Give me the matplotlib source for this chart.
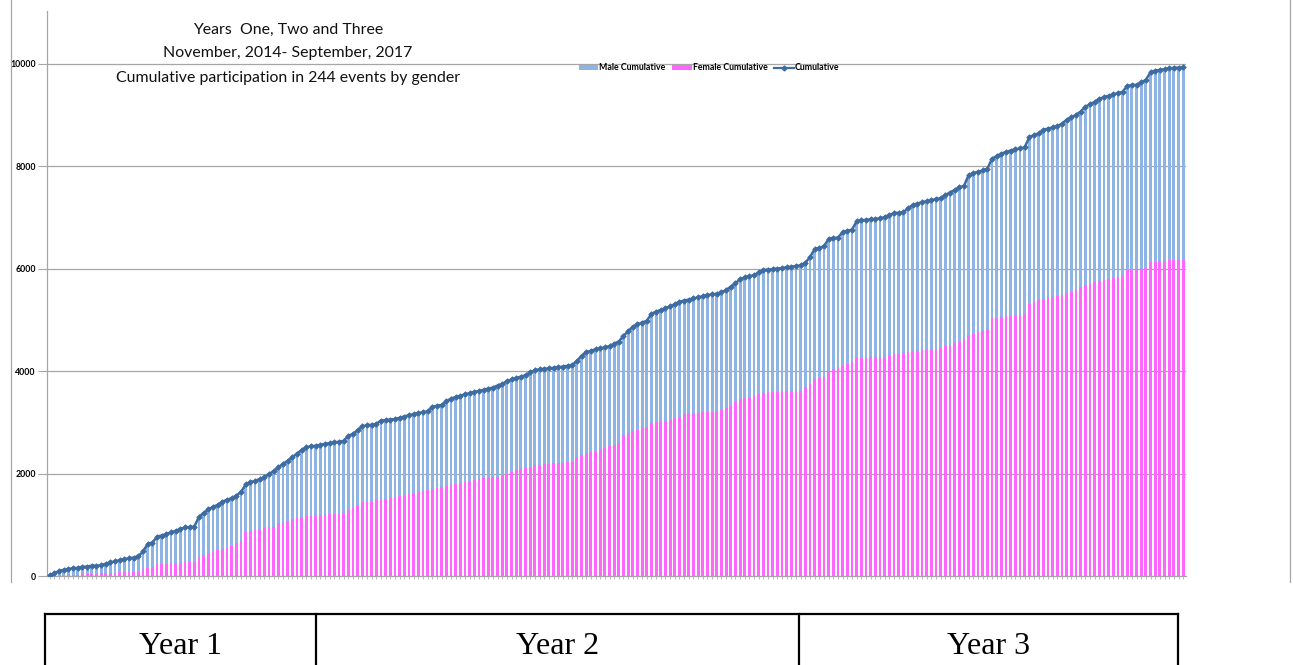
import matplotlib
matplotlib.use("Agg")
import matplotlib.pyplot as plt
from matplotlib.lines import Line2D
from matplotlib.patches import Patch
import numpy as np

# ---- data ----
cumulative = [
    10, 50, 100, 120, 135, 150, 160, 175, 185, 200,
    200, 210, 240, 265, 285, 310, 330, 345, 360, 385,
    480, 630, 650, 770, 790, 820, 850, 880, 920, 950,
    955, 965, 1160, 1230, 1300, 1350, 1390, 1450, 1490, 1520,
    1570, 1640, 1790, 1830, 1860, 1890, 1930, 1990, 2050, 2120,
    2190, 2250, 2320, 2390, 2460, 2515, 2530, 2545, 2560, 2580,
    2595, 2610, 2620, 2640, 2740, 2775, 2850, 2920, 2945, 2955,
    2970, 3035, 3045, 3055, 3065, 3090, 3115, 3140, 3160, 3180,
    3200, 3215, 3300, 3325, 3340, 3410, 3465, 3495, 3520, 3545,
    3570, 3595, 3615, 3635, 3660, 3680, 3720, 3755, 3800, 3840,
    3865, 3895, 3920, 3975, 4020, 4035, 4045, 4055, 4065, 4075,
    4090, 4105, 4120, 4200, 4300, 4370, 4400, 4425, 4445, 4465,
    4490, 4540, 4580, 4690, 4780, 4870, 4915, 4950, 4985, 5120,
    5165, 5195, 5230, 5265, 5310, 5355, 5380, 5400, 5420, 5440,
    5465, 5485, 5500, 5515, 5540, 5585, 5650, 5715, 5800, 5830,
    5850, 5875, 5930, 5975, 5985, 5995, 6005, 6015, 6030, 6040,
    6055, 6065, 6120, 6230, 6390, 6410, 6440, 6590, 6600, 6610,
    6720, 6745, 6765, 6930, 6945, 6955, 6965, 6975, 6985, 7010,
    7050, 7085, 7095, 7105, 7180, 7245, 7275, 7300, 7320, 7340,
    7360, 7380, 7440, 7490, 7540, 7590, 7620, 7830, 7870, 7895,
    7920, 7950, 8150, 8200, 8250, 8280, 8310, 8330, 8350, 8370,
    8570, 8610, 8645, 8710, 8740, 8760, 8780, 8835, 8910, 8960,
    9005, 9070, 9165, 9210, 9260, 9320, 9350, 9380, 9405, 9430,
    9455, 9575, 9585, 9595, 9640, 9690, 9840, 9870, 9885, 9900,
    9915, 9925, 9930, 9940,
]

female_cumulative = [
    0, 5, 10, 12, 15, 20, 25, 30, 35, 40,
    45, 50, 60, 62, 65, 70, 72, 75, 80, 85,
    130, 160, 180, 225, 235, 240, 248, 255, 262, 270,
    275, 280, 380, 410, 450, 475, 500, 525, 545, 590,
    640, 690, 850, 870, 895, 915, 935, 950, 965, 1030,
    1040, 1075, 1110, 1140, 1160, 1165, 1175, 1185, 1190, 1198,
    1205, 1212, 1220, 1225, 1285, 1320, 1380, 1440, 1455, 1465,
    1475, 1500, 1510, 1525, 1540, 1555, 1570, 1595, 1620, 1645,
    1660, 1675, 1695, 1710, 1730, 1755, 1775, 1795, 1820, 1840,
    1855, 1870, 1890, 1910, 1920, 1930, 1940, 1965, 2000, 2030,
    2065, 2085, 2110, 2135, 2160, 2170, 2180, 2190, 2200, 2210,
    2215, 2222, 2230, 2320, 2360, 2400, 2430, 2450, 2475, 2500,
    2530, 2560, 2590, 2750, 2800, 2840, 2860, 2885, 2910, 2990,
    3015, 3025, 3035, 3045, 3080, 3115, 3160, 3180, 3185, 3190,
    3195, 3200, 3210, 3225, 3245, 3275, 3330, 3400, 3460, 3480,
    3505, 3530, 3560, 3575, 3585, 3592, 3600, 3605, 3608, 3612,
    3616, 3620, 3700, 3750, 3850, 3870, 3890, 4005, 4040, 4075,
    4105, 4150, 4200, 4250, 4255, 4262, 4268, 4275, 4280, 4285,
    4310, 4330, 4345, 4360, 4380, 4390, 4400, 4410, 4420, 4430,
    4438, 4445, 4500, 4520, 4545, 4570, 4620, 4680, 4720, 4760,
    4790, 4820, 5030, 5045, 5060, 5075, 5085, 5095, 5105, 5115,
    5320, 5350, 5385, 5415, 5440, 5455, 5470, 5490, 5520, 5550,
    5585, 5640, 5690, 5715, 5740, 5760, 5780, 5800, 5825, 5840,
    5860, 5975, 5985, 5995, 6005, 6020, 6125, 6140, 6155, 6160,
    6165, 6168, 6170, 6172,
]

title_lines = ["Years  One, Two and Three",
               "November, 2014- September, 2017",
               "Cumulative participation in 244 events by gender"]
series_names = ["Male Cumulative", "Female Cumulative", "Cumulative"]
year_labels = ["Year 1", "Year 2", "Year 3"]
y_ticks = [0, 2000, 4000, 6000, 8000, 10000]

# ---- figure ----
W, H = 1293, 665
fig = plt.figure(figsize=(W / 100, H / 100), dpi=100)

def fx(px):
    return px / W

def fy(py):
    return 1 - py / H

ax = fig.add_axes([fx(47), fy(576), fx(1186) - fx(47), fy(11) - fy(576)])

n = len(cumulative)
x = np.arange(n)
total = np.array(cumulative)
female = np.array(female_cumulative)
male_part = total - female

pink = "#FF66FF"
blue = "#8DB4E2"
line_c = "#3D6CA3"

ax.bar(x, female, width=0.6, color=pink, linewidth=0, zorder=2)
ax.bar(x, male_part, bottom=female, width=0.6, color=blue, linewidth=0, zorder=2)
ax.plot(x, total, color=line_c, linewidth=1.8, marker="D", markersize=2.8,
        markeredgewidth=0.6, markeredgecolor=line_c, zorder=4)

ax.set_xlim(-0.6, n - 0.4)
ax.set_ylim(0, 11035)
ax.set_yticks(y_ticks)
ax.set_yticklabels([str(v) for v in y_ticks], fontsize=6.3, fontweight="bold",
                   family=["Lato", "DejaVu Sans"])
ax.yaxis.grid(True, color="#A6A6A6", linewidth=0.9, zorder=0)
ax.set_axisbelow(True)
ax.tick_params(axis="y", length=6.5, width=0.8, color="#A6A6A6", pad=1.5)
ax.set_xticks(x)
ax.set_xticklabels([])
ax.tick_params(axis="x", length=2.5, width=0.5, color="#A6A6A6")
for s in ["top", "right"]:
    ax.spines[s].set_visible(False)
for s in ["left", "bottom"]:
    ax.spines[s].set_color("#A6A6A6")
    ax.spines[s].set_linewidth(0.9)

# title block
for txt, py in zip(title_lines, [30, 53, 78]):
    fig.text(fx(288), fy(py), txt, ha="center", va="center", fontsize=11.4,
             family=["Lato", "DejaVu Sans"], color="#111111")

# legend
handles = [Patch(facecolor=blue, edgecolor="none"),
           Patch(facecolor=pink, edgecolor="none"),
           Line2D([0], [0], color=line_c, linewidth=1.6, marker="D", markersize=2.5)]
leg = fig.legend(handles, series_names, loc="center", bbox_to_anchor=(fx(709), fy(68)),
                 ncol=3, frameon=False, handlelength=2.2, handleheight=0.5,
                 handletextpad=0.1, columnspacing=0.8,
                 prop={"family": ["Lato", "DejaVu Sans"], "size": 6.3, "weight": "bold"})

# outer chart border lines
fig.add_artist(Line2D([fx(11), fx(11)], [fy(0), fy(582)], color="#A6A6A6", linewidth=0.9))
fig.add_artist(Line2D([fx(1290), fx(1290)], [fy(0), fy(582)], color="#A6A6A6", linewidth=0.9))

# year table
tbl_top = 614
xs = [45, 316, 799, 1178]
fig.add_artist(Line2D([fx(xs[0]), fx(xs[-1])], [fy(tbl_top), fy(tbl_top)], color="black", linewidth=1.6))
for xv in xs:
    fig.add_artist(Line2D([fx(xv), fx(xv)], [fy(tbl_top), fy(H + 5)], color="black", linewidth=1.6))
for lbl, a, b in zip(year_labels, xs[:-1], xs[1:]):
    fig.text(fx((a + b) / 2), fy(646), lbl, ha="center", va="center", fontsize=23,
             family=["Liberation Serif", "DejaVu Serif"], color="black")

fig.savefig("out.png", dpi=100)
